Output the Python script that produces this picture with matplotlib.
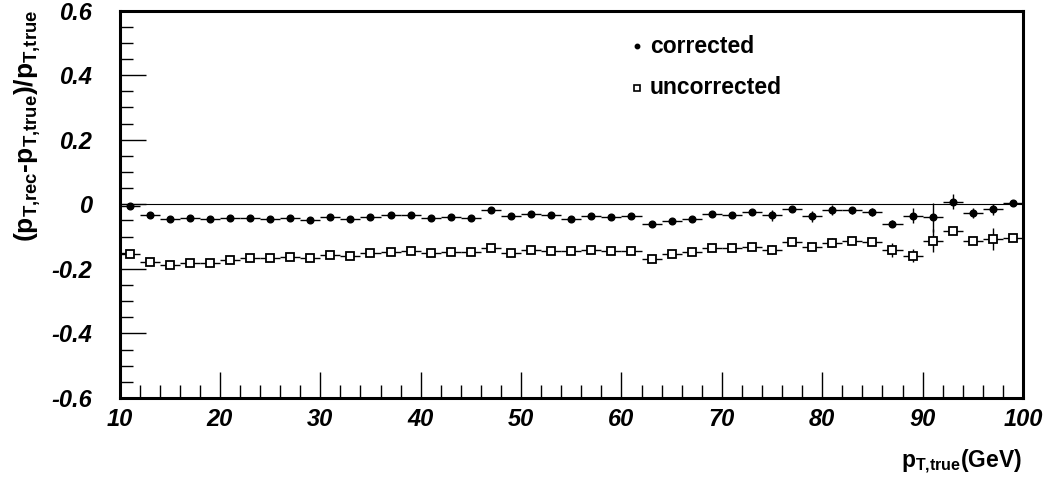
import matplotlib
matplotlib.use("Agg")
import matplotlib.pyplot as plt
from matplotlib.ticker import MultipleLocator
import numpy as np

plt.rcParams['font.family'] = ['Liberation Sans', 'DejaVu Sans']
plt.rcParams['mathtext.fontset'] = 'custom'
plt.rcParams['mathtext.rm'] = 'Liberation Sans:bold'
plt.rcParams['mathtext.bf'] = 'Liberation Sans:bold'
plt.rcParams['mathtext.it'] = 'Liberation Sans:bold:italic'

# bin centres of p_T,true (GeV), 2 GeV bins
pt = np.arange(11, 100, 2)

corrected = [-0.004, -0.033, -0.047, -0.044, -0.047, -0.043, -0.043, -0.045, -0.044, -0.048,
             -0.038, -0.045, -0.041, -0.034, -0.034, -0.042, -0.038, -0.043, -0.019, -0.037,
             -0.030, -0.033, -0.045, -0.035, -0.039, -0.037, -0.062, -0.053, -0.045, -0.029,
             -0.032, -0.025, -0.034, -0.014, -0.037, -0.017, -0.019, -0.025, -0.060, -0.036,
             -0.040, 0.008, -0.027, -0.016, 0.004]
corrected_err = [0.003, 0.003, 0.003, 0.003, 0.003, 0.003, 0.003, 0.003, 0.003, 0.003,
                 0.003, 0.003, 0.003, 0.003, 0.004, 0.004, 0.004, 0.004, 0.004, 0.004,
                 0.004, 0.004, 0.005, 0.005, 0.005, 0.005, 0.005, 0.005, 0.006, 0.006,
                 0.007, 0.008, 0.017, 0.006, 0.017, 0.016, 0.012, 0.012, 0.011, 0.023,
                 0.045, 0.023, 0.016, 0.016, 0.006]

uncorrected = [-0.155, -0.178, -0.188, -0.182, -0.181, -0.173, -0.167, -0.167, -0.163, -0.166,
               -0.156, -0.160, -0.152, -0.149, -0.146, -0.150, -0.147, -0.148, -0.136, -0.150,
               -0.141, -0.144, -0.146, -0.142, -0.144, -0.144, -0.169, -0.155, -0.147, -0.134,
               -0.136, -0.131, -0.141, -0.117, -0.133, -0.119, -0.113, -0.118, -0.142, -0.159,
               -0.113, -0.082, -0.115, -0.109, -0.105]
uncorrected_err = [0.003, 0.003, 0.003, 0.003, 0.003, 0.003, 0.003, 0.003, 0.003, 0.003,
                   0.003, 0.003, 0.003, 0.003, 0.004, 0.004, 0.004, 0.004, 0.004, 0.004,
                   0.004, 0.004, 0.005, 0.005, 0.005, 0.005, 0.005, 0.005, 0.006, 0.006,
                   0.006, 0.007, 0.014, 0.006, 0.008, 0.014, 0.008, 0.008, 0.022, 0.020,
                   0.035, 0.010, 0.008, 0.034, 0.006]

bin_half = 1.0

fig = plt.figure(figsize=(10.56, 4.83), dpi=100)
ax = fig.add_axes([119.5 / 1056, 1 - 398 / 483, (1023 - 119.5) / 1056, (398 - 10.5) / 483])

ax.axhline(0, color='black', lw=0.8, zorder=1)

ax.errorbar(pt, uncorrected, xerr=bin_half, yerr=uncorrected_err, fmt='s', ms=6.2,
            mfc='white', mec='black', mew=1.3, ecolor='black', elinewidth=1.0,
            capsize=0, zorder=3)
ax.errorbar(pt, corrected, xerr=bin_half, yerr=corrected_err, fmt='o', ms=4.8,
            mfc='black', mec='black', ecolor='black', elinewidth=1.0,
            capsize=0, zorder=4)

ax.set_xlim(10, 100)
ax.set_ylim(-0.6, 0.6)

ax.xaxis.set_major_locator(MultipleLocator(10))
ax.xaxis.set_minor_locator(MultipleLocator(2))
ax.yaxis.set_major_locator(MultipleLocator(0.2))
ax.yaxis.set_minor_locator(MultipleLocator(0.05))
ax.tick_params(axis='both', which='both', direction='in', top=False, right=False,
               color='black')
ax.tick_params(axis='both', which='major', length=19, width=1.0)
ax.tick_params(axis='both', which='minor', length=9.5, width=1.0)
ax.tick_params(axis='x', which='major', pad=7)
ax.tick_params(axis='y', which='major', pad=20)

ax.set_xticks(np.arange(10, 101, 10))
ax.set_xticklabels([str(v) for v in range(10, 101, 10)], fontsize=17,
                   fontweight='bold', fontstyle='italic')
yt = np.round(np.arange(-0.6, 0.61, 0.2), 1)
ax.set_yticks(yt)
ax.set_yticklabels(['0' if abs(v) < 1e-9 else f'{v:.1f}' for v in yt], fontsize=17,
                   fontweight='bold', fontstyle='italic')

for sp in ax.spines.values():
    sp.set_linewidth(2.2)

# legend entries
ax.plot([0.573], [0.908], 'o', ms=3.2, color='black', transform=ax.transAxes,
        clip_on=False)
ax.text(0.587, 0.908, 'corrected', transform=ax.transAxes, fontsize=16.5,
        fontweight='bold', va='center', ha='left')
ax.plot([0.573], [0.800], 's', ms=5.0, mfc='white', mec='black', mew=1.2,
        transform=ax.transAxes, clip_on=False)
ax.text(0.587, 0.800, 'uncorrected', transform=ax.transAxes, fontsize=16.5,
        fontweight='bold', va='center', ha='left')

# axis titles
fig.text(1022 / 1056, 1 - 462 / 483, r'$\mathbf{p_{T{,}true}}$(GeV)', fontsize=16.5,
         fontweight='bold', ha='right', va='center')
fig.text(28 / 1056, 1 - 10 / 483,
         r'$\mathbf{(p_{T{,}rec}}$-$\mathbf{p_{T{,}true})/p_{T{,}true}}$',
         fontsize=19, fontweight='bold', rotation=90, ha='center', va='top')

fig.savefig('out.png', dpi=100)
